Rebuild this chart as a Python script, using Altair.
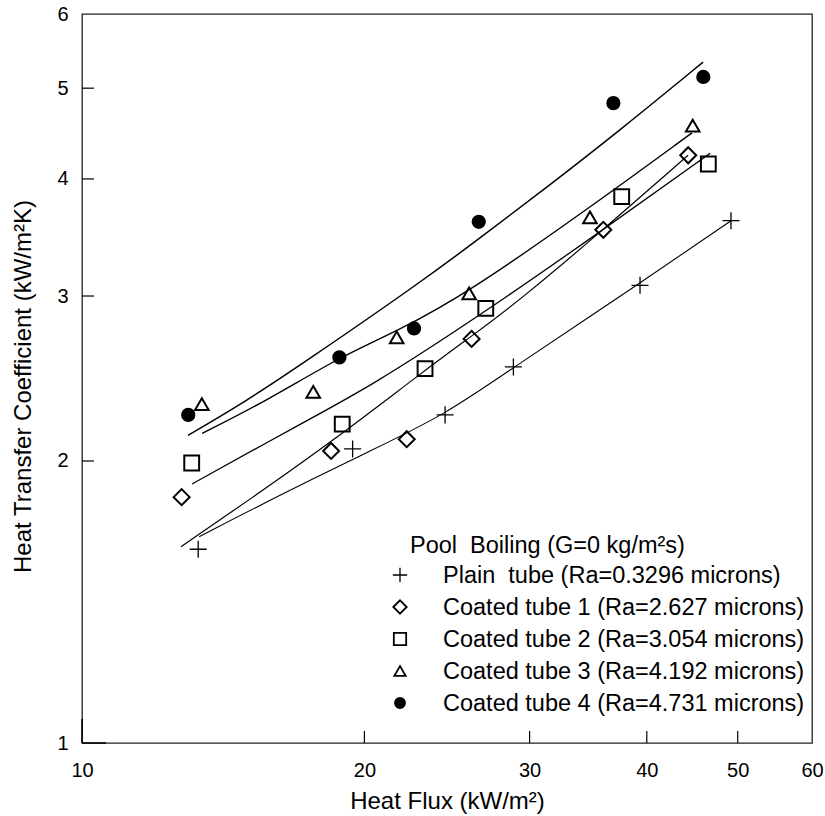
import altair as alt
import pandas as pd

FONT = "Liberation Sans"

names = [
    "Plain\u00a0 tube (Ra=0.3296 microns)",
    "Coated tube 1 (Ra=2.627 microns)",
    "Coated tube 2 (Ra=3.054 microns)",
    "Coated tube 3 (Ra=4.192 microns)",
    "Coated tube 4 (Ra=4.731 microns)",
]
heading = "Pool\u00a0 Boiling (G=0 kg/m\u00b2s)"

# measured points
plain_x = [13.30, 19.43, 24.38, 28.83, 39.34, 49.18]
plain_y = [1.61, 2.06, 2.24, 2.52, 3.08, 3.61]
c1_x = [12.77, 18.43, 22.19, 26.02, 35.95, 44.28]
c1_y = [1.83, 2.05, 2.11, 2.70, 3.53, 4.24]
c2_x = [13.09, 18.94, 23.21, 26.94, 37.61, 46.52]
c2_y = [1.99, 2.19, 2.51, 2.91, 3.83, 4.15]
c3_x = [13.42, 17.64, 21.65, 25.86, 34.79, 44.77]
c3_y = [2.30, 2.37, 2.71, 3.02, 3.64, 4.56]
c4_x = [12.98, 18.81, 22.59, 26.48, 36.85, 45.95]
c4_y = [2.24, 2.58, 2.77, 3.60, 4.82, 5.14]

# fitted curves
plain_fx = [13.33, 16.26, 20.28, 24.38, 28.87, 39.24, 49.18]
plain_fy = [1.66, 1.84, 2.05, 2.24, 2.52, 3.09, 3.61]
c1_fx = [12.75, 15.10, 18.38, 23.21, 26.04, 29.30, 35.93, 44.26]
c1_fy = [1.62, 1.82, 2.09, 2.50, 2.72, 2.97, 3.53, 4.24]
c2_fx = [13.10, 17.08, 20.28, 26.57, 35.93, 46.72]
c2_fy = [1.89, 2.19, 2.40, 2.86, 3.53, 4.26]
c3_fx = [13.43, 15.75, 18.79, 21.67, 25.86, 34.54, 44.69]
c3_fy = [2.14, 2.32, 2.58, 2.75, 3.03, 3.71, 4.48]
c4_fx = [12.97, 14.99, 17.08, 22.93, 26.57, 31.31, 37.46, 45.92]
c4_fy = [2.13, 2.32, 2.53, 3.10, 3.46, 3.92, 4.51, 5.33]

x_ticks = [10, 20, 30, 40, 50, 60]
y_ticks = [1, 2, 3, 4, 5, 6]
x_minor = [20, 30, 40, 50]
y_minor = [2, 3, 4, 5]

pts_x = [plain_x, c1_x, c2_x, c3_x, c4_x]
pts_y = [plain_y, c1_y, c2_y, c3_y, c4_y]
fit_x = [plain_fx, c1_fx, c2_fx, c3_fx, c4_fx]
fit_y = [plain_fy, c1_fy, c2_fy, c3_fy, c4_fy]

pts = pd.DataFrame([
    {"series": n, "x": x, "y": y}
    for n, xs_, ys_ in zip(names, pts_x, pts_y) for x, y in zip(xs_, ys_)
])
fits = pd.DataFrame([
    {"series": n, "x": x, "y": y}
    for n, xs_, ys_ in zip(names, fit_x, fit_y) for x, y in zip(xs_, ys_)
])
legend_df = pd.DataFrame({"series": names})

xs = alt.Scale(type="log", domain=[10, 60], nice=False)
ys = alt.Scale(type="log", domain=[1, 6], nice=False)

xaxis = alt.Axis(values=x_ticks, format="d", tickSize=0, domain=False, grid=False,
                 labelFontSize=20, labelFont=FONT, labelColor="black", labelPadding=17,
                 labelFlush=False, labelOverlap=False,
                 titleFontSize=24, titleFont=FONT, titleFontWeight="normal",
                 titleColor="black", titlePadding=9)
yaxis = alt.Axis(values=y_ticks, format="d", tickSize=0, domain=False, grid=False,
                 labelFontSize=20, labelFont=FONT, labelColor="black", labelPadding=14,
                 labelFlush=False, labelOverlap=False,
                 titleFontSize=24, titleFont=FONT, titleFontWeight="normal",
                 titleColor="black", titlePadding=21, titleY=372)


def X():
    return alt.X("x:Q", scale=xs, axis=xaxis, title="Heat Flux (kW/m\u00b2)")


def Y():
    return alt.Y("y:Q", scale=ys, axis=yaxis, title="Heat Transfer Coefficient (kW/m\u00b2K)")


PLUS = "M-1,0H1M0,-1V1"
shape_scale = alt.Scale(domain=names, range=[PLUS, "diamond", "square", "triangle-up", "circle"])
fill_scale = alt.Scale(domain=names, range=["transparent", "transparent", "transparent", "transparent", "black"])


def shape_fill():
    return dict(
        shape=alt.Shape("series:N", scale=shape_scale, legend=None),
        fill=alt.Fill("series:N", scale=fill_scale, legend=None),
    )


size_plot = alt.Size("series:N", scale=alt.Scale(domain=names, range=[290, 150, 190, 175, 215]), legend=None)
size_leg = alt.Size("series:N", scale=alt.Scale(domain=names, range=[205, 100, 120, 150, 170]), legend=None)

lines = alt.Chart(fits).mark_line(color="black", interpolate="basis").encode(
    x=X(), y=Y(), detail="series:N",
    strokeWidth=alt.StrokeWidth("series:N", scale=alt.Scale(domain=names, range=[1.1, 1.5, 1.8, 1.8, 1.8]), legend=None),
)

hollow = alt.Chart(pts).transform_filter(alt.datum.series != names[0]).mark_point(
    stroke="black", strokeWidth=2, opacity=1
).encode(x=X(), y=Y(), size=size_plot, **shape_fill())

plus = alt.Chart(pts).transform_filter(alt.datum.series == names[0]).mark_point(
    stroke="black", strokeWidth=1.3, opacity=1
).encode(x=X(), y=Y(), size=size_plot, **shape_fill())

ytick = alt.Chart(pd.DataFrame({"y": y_minor})).mark_rule(color="black", strokeWidth=1.2).encode(
    y=Y(), x=alt.value(0), x2=alt.value(12))
xtick = alt.Chart(pd.DataFrame({"x": x_minor})).mark_rule(color="black", strokeWidth=1.2).encode(
    x=X(), y=alt.value(729), y2=alt.value(717))
ymaj = alt.Chart(pd.DataFrame({"y": [1]})).mark_rule(color="black", strokeWidth=1.5).encode(
    y=Y(), x=alt.value(0), x2=alt.value(24))
xmaj = alt.Chart(pd.DataFrame({"x": [10]})).mark_rule(color="black", strokeWidth=1.5).encode(
    x=X(), y=alt.value(729), y2=alt.value(705))

data_group = alt.layer(lines, hollow, plus, ytick, xtick, ymaj, xmaj)

# legend block (drawn as its own layer with a row scale)
legY = alt.Y("series:N", scale=alt.Scale(domain=names, range=[561, 689], padding=0), axis=None)

leg_hollow = alt.Chart(legend_df).transform_filter(alt.datum.series != names[0]).mark_point(
    stroke="black", strokeWidth=1.8, opacity=1
).encode(x=alt.value(318), y=legY, size=size_leg, **shape_fill())
leg_plus = alt.Chart(legend_df).transform_filter(alt.datum.series == names[0]).mark_point(
    stroke="black", strokeWidth=1.3, opacity=1
).encode(x=alt.value(318), y=legY, size=size_leg, **shape_fill())
leg_text = alt.Chart(legend_df).mark_text(
    align="left", baseline="middle", font=FONT, fontSize=23.5, color="black", dy=1
).encode(x=alt.value(361), y=legY, text="series:N")
head = alt.Chart(pd.DataFrame({"t": [heading]})).mark_text(
    align="left", baseline="alphabetic", font=FONT, fontSize=23.5, color="black"
).encode(text="t:N", x=alt.value(328), y=alt.value(539))

legend_group = alt.layer(leg_hollow, leg_plus, leg_text, head)

chart = alt.layer(data_group, legend_group).resolve_scale(
    y="independent", size="independent"
).properties(
    width=730, height=729,
    autosize=alt.AutoSizeParams(type="none"),
    padding={"left": 82, "top": 14, "right": 13, "bottom": 73},
    background="white",
).configure_view(stroke="#222222", strokeWidth=1.3)

chart.save("out.html", embed_options={"renderer": "svg", "actions": False})
